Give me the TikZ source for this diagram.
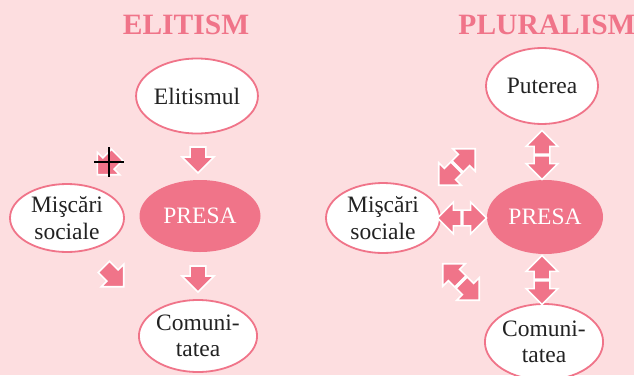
\documentclass[tikz,border=0pt]{standalone}
\usepackage{fontspec}
\setmainfont{Liberation Serif}
\usetikzlibrary{shapes.geometric,shapes.arrows}
\definecolor{bg}{HTML}{FDDEE0}
\definecolor{pk}{HTML}{F07489}
\definecolor{txt}{HTML}{222222}
\tikzset{
  ell/.style={ellipse, draw=pk, line width=1.8pt, fill=white, text=txt, inner sep=0pt, align=center,
    font=\fontsize{23.5}{26.5}\selectfont},
  presa/.style={ellipse, fill=pk, draw=none, text=white, inner sep=0pt,
    font=\fontsize{23.5}{26.5}\selectfont},
  title/.style={text=pk, font=\fontsize{29.5}{32}\selectfont\bfseries, inner sep=0pt},
  barrow/.style={single arrow, fill=pk, draw=white, line width=1.6pt, inner xsep=0pt, inner ysep=4.8pt,
    single arrow head extend=8pt, single arrow head indent=0pt, shape border uses incircle},
  cursor/.style={black, line width=2.5pt}
}
\begin{document}
\begin{tikzpicture}[x=1pt,y=-1pt]
\fill[bg] (0,0) rectangle (634,375);
\useasboundingbox (0,0) rectangle (634,375);
% titles
\node[title] (t1) at (186,25) {ELITISM};
\node[title] (t2) at (547,25) {PLURALISM};
% left diagram
\node[ell, minimum width=118pt, minimum height=75pt] (el) at (197,96) {Elitismul};
\node[presa, minimum width=121pt, minimum height=72pt] (p1) at (200,216) {PRESA};
\node[ell, minimum width=114pt, minimum height=68pt] (m1) at (67,218) {Mişcări\\sociale};
\node[ell, minimum width=116pt, minimum height=72pt] (c1) at (198,336) {Comuni-\\tatea};
\node[barrow, minimum height=26pt, shape border rotate=270] (a1) at (198,156) {};
\node[barrow, minimum height=26pt, shape border rotate=270] (a2) at (198,275) {};
\node[barrow, minimum height=28pt, shape border rotate=225] (a3) at (110,162) {};
\node[barrow, minimum height=28pt, shape border rotate=315] (a4) at (111,274) {};
\draw[cursor] (94,162) -- (124,162);
\draw[cursor] (109,147) -- (109,177);
% right diagram
\node[ell, minimum width=112pt, minimum height=76pt] (pu) at (542,86) {Puterea};
\node[presa, minimum width=116pt, minimum height=74pt] (p2) at (545,217) {PRESA};
\node[ell, minimum width=114pt, minimum height=70pt] (m2) at (383,218) {Mişcări\\sociale};
\node[ell, minimum width=116pt, minimum height=76pt] (c2) at (544,342) {Comuni-\\tatea};
\coordinate (v1) at (542,155);
\coordinate (v2) at (542,280);
\coordinate (h1) at (462,218);
\coordinate (d1) at (457,167);
\coordinate (d2) at (461,282);
\node[barrow, minimum height=23pt, shape border rotate=90, anchor=tail] (b1) at (v1) {};
\node[barrow, minimum height=23pt, shape border rotate=270, anchor=tail] (b2) at (v1) {};
\node[barrow, minimum height=23pt, shape border rotate=90, anchor=tail] (b3) at (v2) {};
\node[barrow, minimum height=23pt, shape border rotate=270, anchor=tail] (b4) at (v2) {};
\node[barrow, minimum height=22pt, shape border rotate=0, anchor=tail] (b5) at (h1) {};
\node[barrow, minimum height=22pt, shape border rotate=180, anchor=tail] (b6) at (h1) {};
\node[barrow, minimum height=25pt, shape border rotate=45, anchor=tail] (b7) at (d1) {};
\node[barrow, minimum height=25pt, shape border rotate=225, anchor=tail] (b8) at (d1) {};
\node[barrow, minimum height=25pt, shape border rotate=135, anchor=tail] (b9) at (d2) {};
\node[barrow, minimum height=25pt, shape border rotate=315, anchor=tail] (b10) at (d2) {};
\end{tikzpicture}
\end{document}
